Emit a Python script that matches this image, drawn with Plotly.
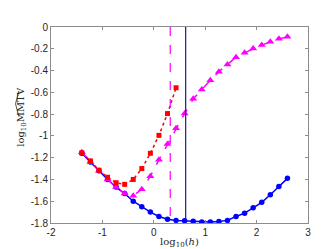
import numpy as np
import plotly.graph_objects as go

# log10(h) grid
x_all = [-1.4 + k / 6 for k in range(25)]
x_red = x_all[:12]

blue_vals = [-1.16, -1.24, -1.32, -1.40, -1.47, -1.53, -1.60, -1.65, -1.70, -1.74,
             -1.765, -1.776, -1.78, -1.785, -1.79, -1.79, -1.787, -1.776, -1.74, -1.71,
             -1.66, -1.61, -1.54, -1.465, -1.39]
magenta_vals = [-1.15, -1.24, -1.32, -1.40, -1.47, -1.53, -1.55, -1.49, -1.37, -1.22,
                -1.075, -0.93, -0.795, -0.66, -0.573, -0.49, -0.41, -0.345, -0.277, -0.237,
                -0.198, -0.166, -0.136, -0.109, -0.09]
red_vals = [-1.155, -1.23, -1.315, -1.38, -1.43, -1.445, -1.40, -1.30, -1.16, -0.995,
            -0.795, -0.558]

vline_dashed_x = 0.32
vline_solid_x = 0.62

x_ticks = [-2, -1, 0, 1, 2, 3]
y_ticks = [0, -0.2, -0.4, -0.6, -0.8, -1, -1.2, -1.4, -1.6, -1.8]
y_labels = ["0", "-0.2", "-0.4", "-0.6", "-0.8", "-1", "-1.2", "-1.4", "-1.6", "-1.8"]

fig = go.Figure()

fig.add_trace(go.Scatter(x=x_all, y=blue_vals, mode="lines+markers",
                         line=dict(color="#0000FF", width=1.5),
                         marker=dict(symbol="circle", size=5.5, color="#0000FF")))
fig.add_trace(go.Scatter(x=x_all, y=magenta_vals, mode="lines+markers",
                         line=dict(color="#FF00FF", width=1.5, dash="dash"),
                         marker=dict(symbol="triangle-up", size=7, color="#FF00FF")))
fig.add_trace(go.Scatter(x=x_red, y=red_vals, mode="lines+markers",
                         line=dict(color="#FF0000", width=1.5, dash="dot"),
                         marker=dict(symbol="square", size=5, color="#FF0000")))
fig.add_trace(go.Scatter(x=[vline_dashed_x, vline_dashed_x], y=[0, -1.8], mode="lines",
                         line=dict(color="#FF00FF", width=1.2, dash="dash")))
fig.add_trace(go.Scatter(x=[vline_solid_x, vline_solid_x], y=[0, -1.8], mode="lines",
                         line=dict(color="#1a1a8c", width=1.2)))

axis_common = dict(showgrid=False, zeroline=False, showline=True, linecolor="#8c8c8c",
                   linewidth=1, mirror="ticks", ticks="inside", ticklen=3,
                   tickcolor="#8c8c8c", tickfont=dict(family="Liberation Sans, Arial", size=10, color="#262626"))

def px(xp):
    return (xp - 43) / 257
def py(yp):
    return (222 - yp) / 203

# wide hat over "MMTV" in the rotated y-axis title (decorative)
hat_path = f"M {px(11)},{py(112)} L {px(7.5)},{py(98.5)} L {px(11)},{py(85)}"

fig.update_layout(
    width=332, height=249,
    margin=dict(l=43, r=32, t=19, b=27),
    paper_bgcolor="white", plot_bgcolor="white",
    showlegend=False,
    xaxis=dict(range=[-2, 3], tickvals=x_ticks, ticktext=[str(v) for v in x_ticks],
               title=dict(text="log<sub>10</sub>(<i>h</i>)", standoff=0,
                          font=dict(family="DejaVu Serif, Liberation Serif", size=10, color="#262626")),
               **axis_common),
    yaxis=dict(range=[-1.8, 0], tickvals=y_ticks, ticktext=y_labels, **axis_common),
    annotations=[dict(text="log<sub>10</sub>MMTV", textangle=-90, xref="paper", yref="paper",
                      x=px(14), y=py(112), xanchor="center", yanchor="middle", showarrow=False,
                      font=dict(family="DejaVu Serif, Liberation Serif", size=10, color="#262626"))],
    shapes=[dict(type="path", xref="paper", yref="paper", path=hat_path,
                 line=dict(color="#262626", width=0.8))],
)

fig.write_html("out.html")
